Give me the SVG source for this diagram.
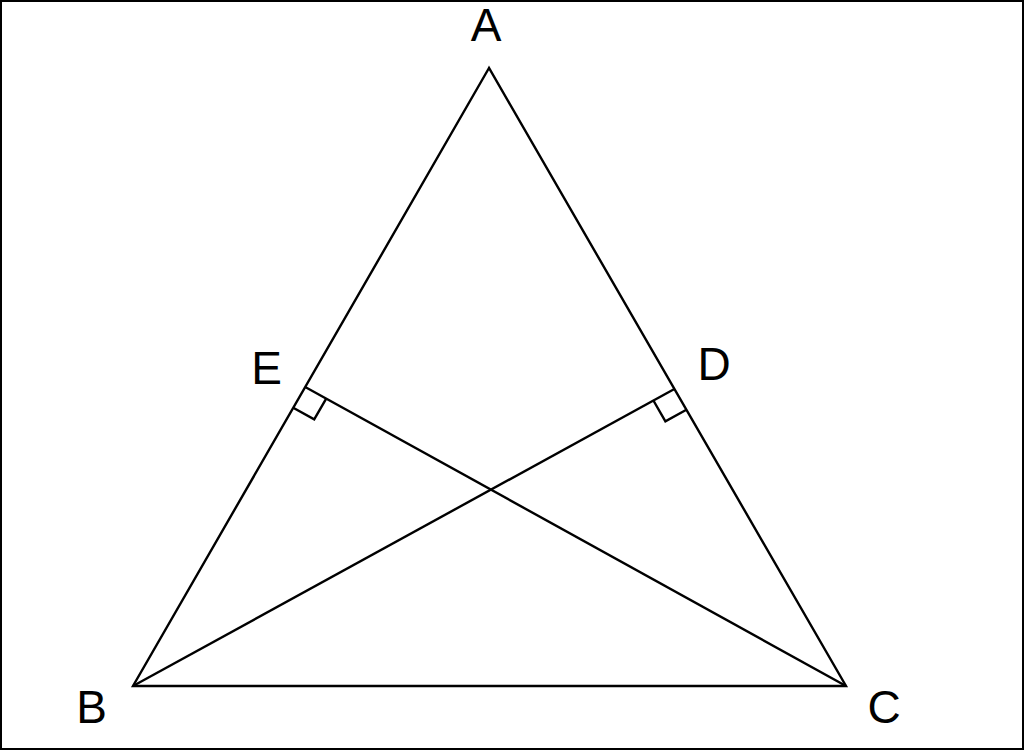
<svg xmlns="http://www.w3.org/2000/svg" width="1024" height="750" viewBox="0 0 1024 750">
<style>
.ln{stroke:#000;stroke-width:2.4;fill:none;stroke-linejoin:miter}
.lbl{font-family:"Liberation Sans",Arial,sans-serif;font-size:46px;fill:#000;text-anchor:middle}
</style>
<rect x="0" y="0" width="1024" height="750" fill="#fff"/>
<rect x="1" y="1" width="1022" height="748" fill="none" stroke="#000" stroke-width="2"/>
<g id="connectors">
<polygon class="ln" points="489,68 133,686 846,686"/>
<line class="ln" x1="133" y1="686" x2="674.4" y2="389"/>
<line class="ln" x1="846" y1="686" x2="305.2" y2="387"/>
<polyline class="ln" points="326.2,398.6 314.2,419.4 293.2,407.8"/>
<polyline class="ln" points="653.4,400.5 665.4,421.3 686.4,409.8"/>
</g>
<g id="A"><text class="lbl" x="486" y="41">A</text></g>
<g id="B"><text class="lbl" x="91.5" y="723">B</text></g>
<g id="C"><text class="lbl" x="884" y="723">C</text></g>
<g id="D"><text class="lbl" x="714" y="380">D</text></g>
<g id="E"><text class="lbl" x="266.5" y="384">E</text></g>
</svg>
